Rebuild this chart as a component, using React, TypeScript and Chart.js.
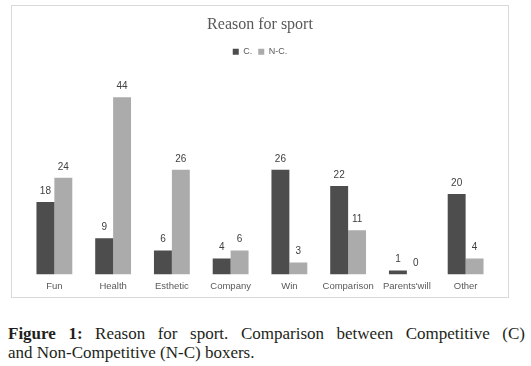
import React, { useEffect, useRef } from "react";
import { Chart, registerables } from "chart.js";

Chart.register(...registerables);

const categories = ["Fun", "Health", "Esthetic", "Company", "Win", "Comparison", "Parents'will", "Other"];
const competitive = [18, 9, 6, 4, 26, 22, 1, 20];
const nonCompetitive = [24, 44, 26, 6, 3, 11, 0, 4];
const seriesNames = ["C.", "N-C."];

const valueLabels = {
  id: "valueLabels",
  afterDatasetsDraw(chart: any) {
    const ctx = chart.ctx;
    ctx.save();
    ctx.font = "10px 'Liberation Sans', sans-serif";
    ctx.fillStyle = "#404040";
    ctx.textAlign = "center";
    ctx.textBaseline = "middle";
    chart.data.datasets.forEach((ds: any, i: number) => {
      const meta = chart.getDatasetMeta(i);
      meta.data.forEach((bar: any, j: number) => {
        ctx.fillText(String(ds.data[j]), bar.x, bar.y - 11);
      });
    });
    ctx.restore();
  },
};

export default function App() {
  const ref = useRef<HTMLCanvasElement>(null);
  useEffect(() => {
    const chart = new Chart(ref.current!, {
      type: "bar",
      data: {
        labels: categories,
        datasets: [
          { label: seriesNames[0], data: competitive, backgroundColor: "#4d4d4d" },
          { label: seriesNames[1], data: nonCompetitive, backgroundColor: "#ababab" },
        ],
      },
      options: {
        animation: false,
        responsive: false,
        layout: { padding: { left: 25, right: 36, top: 0, bottom: 0 } },
        datasets: { bar: { categoryPercentage: 0.61, barPercentage: 1.0 } } as any,
        plugins: {
          title: {
            display: true,
            text: "Reason for sport",
            color: "#595959",
            font: { family: "'Liberation Serif', serif", size: 16, weight: "normal" },
            padding: { top: 15, bottom: 7 },
          },
          legend: {
            display: true,
            labels: {
              boxWidth: 6,
              boxHeight: 6,
              padding: 6,
              color: "#595959",
              font: { family: "'Liberation Sans', sans-serif", size: 9 },
            },
          },
          tooltip: { enabled: false },
        },
        scales: {
          x: {
            grid: { display: false, drawTicks: false },
            border: { display: false },
            ticks: {
              padding: 6,
              maxRotation: 0,
              minRotation: 0,
              autoSkip: false,
              color: "#595959",
              font: { family: "'Liberation Sans', sans-serif", size: 9.5 },
            },
          },
          y: {
            display: false,
            min: 0,
            max: 51.7,
          },
        },
      },
      plugins: [valueLabels],
    });
    return () => chart.destroy();
  }, []);

  const capStyle: React.CSSProperties = {
    fontFamily: "'Liberation Serif', serif",
    fontSize: 17,
    lineHeight: "19px",
    color: "#231f20",
  };

  return (
    <div style={{ position: "absolute", left: 0, top: 0, width: 531, height: 366, background: "#fff" }}>
      <div
        style={{
          position: "absolute",
          left: 11,
          top: 5,
          width: 496,
          height: 291,
          border: "1px solid #d9d9d9",
        }}
      />
      <canvas ref={ref} width={531} height={298} style={{ position: "absolute", left: 0, top: 0 }} />
      <div style={{ position: "absolute", left: 8, top: 324, width: 517 }}>
        <div style={{ ...capStyle, textAlign: "justify", textAlignLast: "justify" } as React.CSSProperties}>
          <b>Figure 1:</b> Reason for sport. Comparison between Competitive (C)
        </div>
        <div style={capStyle}>and Non-Competitive (N-C) boxers.</div>
      </div>
    </div>
  );
}
